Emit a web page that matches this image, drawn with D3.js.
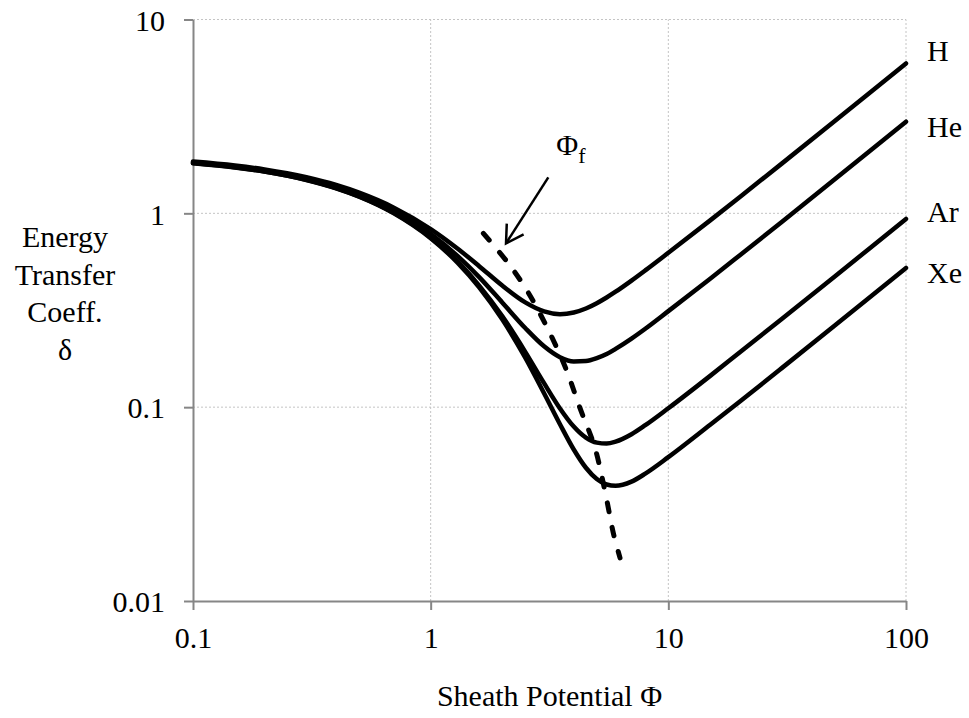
<!DOCTYPE html>
<html>
<head>
<meta charset="utf-8">
<script src="https://cdn.jsdelivr.net/npm/d3@7"></script>
<style>
  body { margin: 0; background: #fff; }
  svg { display: block; }
  text { font-family: "Liberation Serif", "Times New Roman", serif; fill: #000; }
</style>
</head>
<body>
<svg width="969" height="718"></svg>
<script>
// values
const phi = [0.1, 0.15, 0.2, 0.3, 0.4, 0.5, 0.7, 1, 1.3, 1.6, 2, 2.5, 3, 3.5, 4, 4.5, 5, 5.5, 6, 7, 8, 10, 15, 20, 30, 50, 70, 100];
const deltaH = [1.851, 1.766, 1.685, 1.535, 1.4, 1.278, 1.07, 0.83, 0.657, 0.534, 0.424, 0.347, 0.312, 0.302, 0.308, 0.323, 0.344, 0.368, 0.394, 0.45, 0.508, 0.626, 0.92, 1.215, 1.805, 2.985, 4.165, 5.935];
const deltaHe = [1.83, 1.744, 1.661, 1.508, 1.37, 1.246, 1.032, 0.783, 0.601, 0.469, 0.347, 0.256, 0.206, 0.181, 0.172, 0.173, 0.179, 0.188, 0.2, 0.226, 0.254, 0.313, 0.46, 0.608, 0.903, 1.493, 2.083, 2.968];
const deltaAr = [1.816, 1.728, 1.645, 1.49, 1.35, 1.223, 1.005, 0.751, 0.563, 0.424, 0.295, 0.193, 0.133, 0.0985, 0.0794, 0.0696, 0.0656, 0.0649, 0.0664, 0.0725, 0.0807, 0.0987, 0.145, 0.192, 0.285, 0.471, 0.657, 0.936];
const deltaXe = [1.813, 1.725, 1.642, 1.486, 1.346, 1.219, 1.0, 0.744, 0.555, 0.415, 0.284, 0.18, 0.118, 0.0817, 0.0605, 0.0487, 0.0426, 0.0399, 0.0393, 0.0413, 0.0454, 0.0552, 0.0811, 0.107, 0.159, 0.263, 0.367, 0.523];

const gasNames = ["H", "He", "Ar", "Xe"];
const gasDeltas = [deltaH, deltaHe, deltaAr, deltaXe];

// floating potential locus (dashed)
const floatPhi = [1.666, 2.122, 2.535, 3.027, 3.675, 4.25, 4.913, 5.503, 5.869, 6.262];
const floatDelta = [0.789, 0.552, 0.402, 0.271, 0.162, 0.0988, 0.0615, 0.0333, 0.0224, 0.0167];

// arrow pointing at the dashed line: [tail, tip] as [phi, delta]
const arrowPoints = [[3.126, 1.533], [2.075, 0.70]];

const xTicks = [0.1, 1, 10, 100];
const yTicks = [0.01, 0.1, 1, 10];
const xTickLabels = ["0.1", "1", "10", "100"];
const yTickLabels = ["0.01", "0.1", "1", "10"];

const axisColor = "#868686";
const gridColor = "#c4c4c4";
const fontSize = 30;

const svg = d3.select("svg");

const x = d3.scaleLog().domain([0.1, 100]).range([193, 906]);
const y = d3.scaleLog().domain([0.01, 10]).range([601, 19.5]);

// gridlines
svg.append("g")
  .selectAll("line")
  .data(xTicks.slice(1))
  .enter()
  .append("line")
  .attr("x1", d => x(d))
  .attr("x2", d => x(d))
  .attr("y1", y(0.01))
  .attr("y2", y(10))
  .attr("stroke", gridColor)
  .attr("stroke-width", 1)
  .attr("stroke-dasharray", "2,2");

svg.append("g")
  .selectAll("line")
  .data(yTicks.slice(1))
  .enter()
  .append("line")
  .attr("x1", x(0.1))
  .attr("x2", x(100))
  .attr("y1", d => y(d))
  .attr("y2", d => y(d))
  .attr("stroke", gridColor)
  .attr("stroke-width", 1)
  .attr("stroke-dasharray", "2,2");

// axes
const xAxis = svg.append("g")
  .attr("transform", `translate(0,${y(0.01)})`)
  .call(d3.axisBottom(x).tickValues(xTicks).tickFormat((d, i) => xTickLabels[i]).tickSizeInner(9).tickSizeOuter(0).tickPadding(17));

const yAxis = svg.append("g")
  .attr("transform", `translate(${x(0.1)},0)`)
  .call(d3.axisLeft(y).tickValues(yTicks).tickFormat((d, i) => yTickLabels[i]).tickSizeInner(9).tickSizeOuter(0).tickPadding(19));

[xAxis, yAxis].forEach(g => {
  g.select(".domain").attr("stroke", axisColor).attr("stroke-width", 2);
  g.selectAll(".tick line").attr("stroke", axisColor).attr("stroke-width", 2);
  g.selectAll(".tick text")
    .attr("fill", "#000")
    .style("font-family", '"Liberation Serif", "Times New Roman", serif')
    .style("font-size", fontSize + "px");
});
yAxis.selectAll(".tick text").attr("dy", "0.36em");

// curves
const line = d3.line()
  .x(d => x(d[0]))
  .y(d => y(d[1]))
  .curve(d3.curveMonotoneX);

svg.append("g")
  .selectAll("path")
  .data(gasDeltas)
  .enter()
  .append("path")
  .attr("d", vals => line(phi.map((p, i) => [p, vals[i]])))
  .attr("fill", "none")
  .attr("stroke", "#000")
  .attr("stroke-width", 4.5)
  .attr("stroke-linecap", "round")
  .attr("stroke-linejoin", "round");

svg.append("path")
  .attr("d", d3.line().x(d => x(d[0])).y(d => y(d[1])).curve(d3.curveCatmullRom)(floatPhi.map((p, i) => [p, floatDelta[i]])))
  .attr("fill", "none")
  .attr("stroke", "#000")
  .attr("stroke-width", 5)
  .attr("stroke-linecap", "round")
  .attr("stroke-dasharray", "9,16");

// series labels next to the line ends
const labelOffsets = [-13, 5, -7, 5];
svg.append("g")
  .selectAll("text")
  .data(gasNames)
  .enter()
  .append("text")
  .attr("x", x(100) + 21)
  .attr("y", (d, i) => y(gasDeltas[i][gasDeltas[i].length - 1]) + labelOffsets[i])
  .attr("dy", "0.35em")
  .style("font-size", fontSize + "px")
  .text(d => d);

// arrow + phi_f label
svg.append("defs").append("marker")
  .attr("id", "head")
  .attr("markerUnits", "userSpaceOnUse")
  .attr("viewBox", "-20 -12 24 24")
  .attr("refX", 0)
  .attr("refY", 0)
  .attr("markerWidth", 24)
  .attr("markerHeight", 24)
  .attr("orient", "auto")
  .append("path")
  .attr("d", "M-17,-10L0,0L-17,10")
  .attr("fill", "none")
  .attr("stroke", "#000")
  .attr("stroke-width", 2.5);

svg.append("line")
  .attr("x1", x(arrowPoints[0][0]))
  .attr("y1", y(arrowPoints[0][1]))
  .attr("x2", x(arrowPoints[1][0]))
  .attr("y2", y(arrowPoints[1][1]))
  .attr("stroke", "#000")
  .attr("stroke-width", 2.5)
  .attr("marker-end", "url(#head)");

const phiF = svg.append("text")
  .attr("x", x(arrowPoints[0][0]) + 8)
  .attr("y", y(arrowPoints[0][1]) - 22)
  .style("font-size", fontSize + "px");
phiF.append("tspan").text("Φ");
phiF.append("tspan").attr("dy", 8).style("font-size", "22px").text("f");

// axis titles
svg.append("text")
  .attr("x", x(Math.sqrt(10)))
  .attr("y", 706)
  .attr("text-anchor", "middle")
  .style("font-size", fontSize + "px")
  .text("Sheath Potential Φ");

const yTitle = ["Energy", "Transfer", "Coeff.", "δ"];
svg.append("g")
  .selectAll("text")
  .data(yTitle)
  .enter()
  .append("text")
  .attr("x", 65)
  .attr("y", (d, i) => 247 + i * 37.5)
  .attr("text-anchor", "middle")
  .style("font-size", fontSize + "px")
  .text(d => d);
</script>
</body>
</html>
